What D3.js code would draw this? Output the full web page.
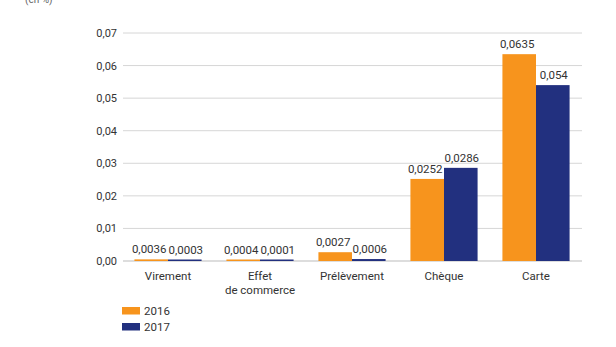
<!DOCTYPE html>
<html>
<head>
<meta charset="utf-8">
<script src="https://cdn.jsdelivr.net/npm/d3@7"></script>
<style>
  body { margin: 0; background: #fff; }
  svg { display: block; font-family: Roboto, "Liberation Sans", sans-serif; }
</style>
</head>
<body>
<div id="chart"></div>
<script>
// données
const categories = ["Virement", "Effet\nde commerce", "Prélèvement", "Chèque", "Carte"];
const years = ["2016", "2017"];
// hauteurs des barres telles que dessinées dans la figure
const values2016 = [0.0005, 0.0004, 0.0027, 0.0252, 0.0635];
const values2017 = [0.0003, 0.0001, 0.0006, 0.0286, 0.054];
// étiquettes affichées
const labels2016 = ["0,0036", "0,0004", "0,0027", "0,0252", "0,0635"];
const labels2017 = ["0,0003", "0,0001", "0,0006", "0,0286", "0,054"];
const yTicks = [0, 0.01, 0.02, 0.03, 0.04, 0.05, 0.06, 0.07];
const colors = ["#f7941d", "#22307f"];

const width = 616;
const height = 347;

const svg = d3.select("#chart")
    .append("svg")
    .attr("width", width)
    .attr("height", height);

const x = d3.scaleBand()
    .domain(categories)
    .range([122, 582])
    .paddingInner(0.27)
    .paddingOuter(0.135);

const x1 = d3.scaleBand()
    .domain(years)
    .range([0, x.bandwidth()]);

const y = d3.scaleLinear()
    .domain([0, 0.07])
    .range([261, 33]);

// unité en haut
svg.append("text")
    .attr("x", 25)
    .attr("y", 3)
    .attr("font-size", 10)
    .attr("fill", "#666")
    .text("(en %)");

// grille
svg.append("g")
    .selectAll("line")
    .data(yTicks)
    .join("line")
    .attr("x1", 123)
    .attr("x2", 582)
    .attr("y1", d => y(d))
    .attr("y2", d => y(d))
    .attr("stroke", d => d === 0 ? "#bbb" : "#d6d6d6")
    .attr("stroke-width", 1);

// axe y
svg.append("g")
    .attr("transform", "translate(123,0)")
    .call(d3.axisLeft(y).tickValues(yTicks).tickSize(0).tickPadding(6)
        .tickFormat(d => d3.format(".2f")(d).replace(".", ",")))
    .call(g => g.select(".domain").remove())
    .call(g => g.selectAll("text")
        .attr("font-size", 11)
        .attr("fill", "#333")
        .attr("font-family", "Roboto, 'Liberation Sans', sans-serif"));

// barres
const series = [
    { year: years[0], values: values2016, labels: labels2016, dx: -2 },
    { year: years[1], values: values2017, labels: labels2017, dx: 1 }
];

const groups = svg.append("g")
    .selectAll("g")
    .data(series)
    .join("g")
    .attr("fill", (d, i) => colors[i]);

const items = s => s.values.map((v, j) => ({ year: s.year, cat: categories[j], v, label: s.labels[j], dx: s.dx }));

groups.selectAll("rect")
    .data(items)
    .join("rect")
    .attr("x", d => x(d.cat) + x1(d.year))
    .attr("y", d => Math.min(y(d.v), y(0) - 1.5))
    .attr("width", x1.bandwidth())
    .attr("height", d => Math.max(1.5, y(0) - y(d.v)));

// étiquettes de valeur
groups.selectAll("text")
    .data(items)
    .join("text")
    .attr("x", d => x(d.cat) + x1(d.year) + x1.bandwidth() / 2 + d.dx)
    .attr("y", d => Math.min(y(d.v), y(0) - 1.5) - 6)
    .attr("text-anchor", "middle")
    .attr("font-size", 11.5)
    .attr("fill", "#333")
    .text(d => d.label);

// libellés des catégories
const catLabels = svg.append("g")
    .selectAll("text")
    .data(categories)
    .join("text")
    .attr("x", d => x(d) + x.bandwidth() / 2)
    .attr("y", 280)
    .attr("text-anchor", "middle")
    .attr("font-size", 11.5)
    .attr("fill", "#333");

catLabels.selectAll("tspan")
    .data(d => d.split("\n"))
    .join("tspan")
    .attr("x", function() { return d3.select(this.parentNode).attr("x"); })
    .attr("dy", (d, i) => i === 0 ? 0 : 14)
    .text(d => d);

// légende
const legend = svg.append("g")
    .selectAll("g")
    .data(years)
    .join("g")
    .attr("transform", (d, i) => `translate(122,${307 + i * 16})`);

legend.append("rect")
    .attr("width", 18)
    .attr("height", 7.5)
    .attr("fill", (d, i) => colors[i]);

legend.append("text")
    .attr("x", 22)
    .attr("y", 8)
    .attr("font-size", 11.5)
    .attr("fill", "#333")
    .text(d => d);
</script>
</body>
</html>
